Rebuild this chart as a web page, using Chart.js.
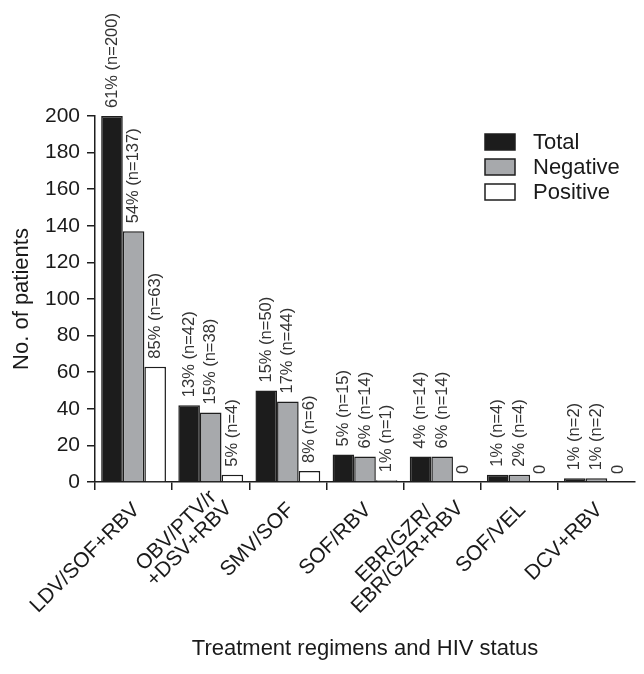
<!DOCTYPE html>
<html>
<head>
<meta charset="utf-8">
<script src="https://cdn.jsdelivr.net/npm/chart.js@4/dist/chart.umd.min.js"></script>
<style>
  html, body { margin: 0; padding: 0; background: #ffffff; }
  #wrap { width: 644px; height: 674px; position: relative; }
</style>
</head>
<body>
<div id="wrap"><canvas id="c" width="644" height="674"></canvas></div>
<script>
// ---- data ----
const categories = [
  "LDV/SOF+RBV",
  ["OBV/PTV/r", "+DSV+RBV"],
  "SMV/SOF",
  "SOF/RBV",
  ["EBR/GZR/", "EBR/GZR+RBV"],
  "SOF/VEL",
  "DCV+RBV"
];
const seriesNames = ["Total", "Negative", "Positive"];
const totalValues    = [200, 42, 50, 15, 14, 4, 2];
const negativeValues = [137, 38, 44, 14, 14, 4, 2];
const positiveValues = [63, 4, 6, 1, 0, 0, 0];
const totalPct    = [61, 13, 15, 5, 4, 1, 1];
const negativePct = [54, 15, 17, 6, 6, 2, 1];
const positivePct = [85, 5, 8, 1, 0, 0, 0];
const yTicks = [0, 20, 40, 60, 80, 100, 120, 140, 160, 180, 200];
const yTitle = "No. of patients";
const xTitle = "Treatment regimens and HIV status";

const FONT = "'Liberation Sans', Arial, Helvetica, sans-serif";
const INK = "#1e1e1e";

const pctArrays = [totalPct, negativePct, positivePct];

const valueLabels = {
  id: "valueLabels",
  afterDatasetsDraw(chart) {
    const ctx = chart.ctx;
    ctx.save();
    ctx.font = "16.5px " + FONT;
    ctx.fillStyle = "#333333";
    ctx.textAlign = "left";
    ctx.textBaseline = "middle";
    chart.data.datasets.forEach((ds, di) => {
      const meta = chart.getDatasetMeta(di);
      meta.data.forEach((el, i) => {
        const v = ds.data[i];
        const txt = v === 0 ? "0" : pctArrays[di][i] + "% (n=" + v + ")";
        ctx.save();
        ctx.translate(el.x, el.y - 8);
        ctx.rotate(-Math.PI / 2);
        ctx.fillText(txt, 0, 0);
        ctx.restore();
      });
    });
    ctx.restore();
  }
};

const customLegend = {
  id: "customLegend",
  afterDraw(chart) {
    const ctx = chart.ctx;
    ctx.save();
    ctx.font = "22px " + FONT;
    ctx.textBaseline = "middle";
    ctx.textAlign = "left";
    chart.data.datasets.forEach((ds, i) => {
      const bx = 485, by = 134 + i * 25;
      ctx.fillStyle = ds.backgroundColor;
      ctx.fillRect(bx, by, 30, 16);
      ctx.strokeStyle = INK;
      ctx.lineWidth = 1.5;
      ctx.strokeRect(bx, by, 30, 16);
      ctx.fillStyle = "#1a1a1a";
      ctx.fillText(ds.label, 533, by + 8.5);
    });
    ctx.restore();
  }
};

// multi-line rotated tick labels: centre the lines on each other and on the tick
const centerMultiline = {
  id: "centerMultiline",
  beforeDraw(chart) {
    const scale = chart.scales.x;
    const items = scale.getLabelItems();
    const ctx = chart.ctx;
    items.forEach(it => {
      if (Array.isArray(it.label) && it.label.length > 1 && !it._adj) {
        const n = it.label.length;
        const lh = it.font.lineHeight;
        ctx.save();
        ctx.font = it.font.string;
        const W = Math.max(...it.label.map(s => ctx.measureText(s).width));
        ctx.restore();
        const rot = it.options.rotation;
        const shift = -W / 2 + 12;
        const t = it.options.translation;
        it.options.translation = [t[0] + shift * Math.cos(rot), t[1] + shift * Math.sin(rot)];
        it.options.textAlign = "center";
        it.textOffset = it.textOffset - lh * (n - 1) / 2;
        it._adj = true;
      }
    });
  }
};

new Chart(document.getElementById("c"), {
  type: "bar",
  data: {
    labels: categories,
    datasets: [
      { label: seriesNames[0], data: totalValues, backgroundColor: "#1c1c1c", borderColor: INK, borderWidth: 1.5 },
      { label: seriesNames[1], data: negativeValues, backgroundColor: "#a7a9ac", borderColor: INK, borderWidth: 1.5 },
      { label: seriesNames[2], data: positiveValues, backgroundColor: "#ffffff", borderColor: INK, borderWidth: 1.5 }
    ]
  },
  options: {
    responsive: false,
    animation: false,
    devicePixelRatio: 1,
    layout: { padding: { top: 116, right: 9, left: 9, bottom: 12 } },
    datasets: { bar: { categoryPercentage: 0.84, barPercentage: 1.0, borderSkipped: "start" } },
    plugins: {
      legend: { display: false },
      tooltip: { enabled: false }
    },
    scales: {
      x: {
        offset: true,
        grid: { display: true, offset: true, drawOnChartArea: false, drawTicks: true, tickLength: 8,
                color: (c) => c.type === "tick" ? INK : "rgba(0,0,0,0)", lineWidth: 1.5 },
        border: { display: true, color: INK, width: 1.5 },
        ticks: { autoSkip: false, minRotation: 45, maxRotation: 45, padding: 10, labelOffset: 3, color: "#1a1a1a",
                 font: { family: FONT, size: 21, lineHeight: 0.9 } },
        title: { display: true, text: xTitle, color: "#1a1a1a", font: { family: FONT, size: 22 }, padding: 0 },
        afterFit(s) { s.height = 180; }
      },
      y: {
        min: 0, max: 200,
        afterBuildTicks(s) { s.ticks = yTicks.map(v => ({ value: v })); },
        grid: { display: true, drawOnChartArea: false, drawTicks: true, tickLength: 8, color: INK, lineWidth: 1.5 },
        border: { display: true, color: INK, width: 1.5 },
        ticks: { padding: 7, color: "#1a1a1a", font: { family: FONT, size: 21 } },
        title: { display: true, text: yTitle, color: "#1a1a1a", font: { family: FONT, size: 22 }, padding: 0 },
        afterFit(s) { s.width = 86; }
      }
    }
  },
  plugins: [valueLabels, customLegend, centerMultiline]
});
</script>
</body>
</html>
